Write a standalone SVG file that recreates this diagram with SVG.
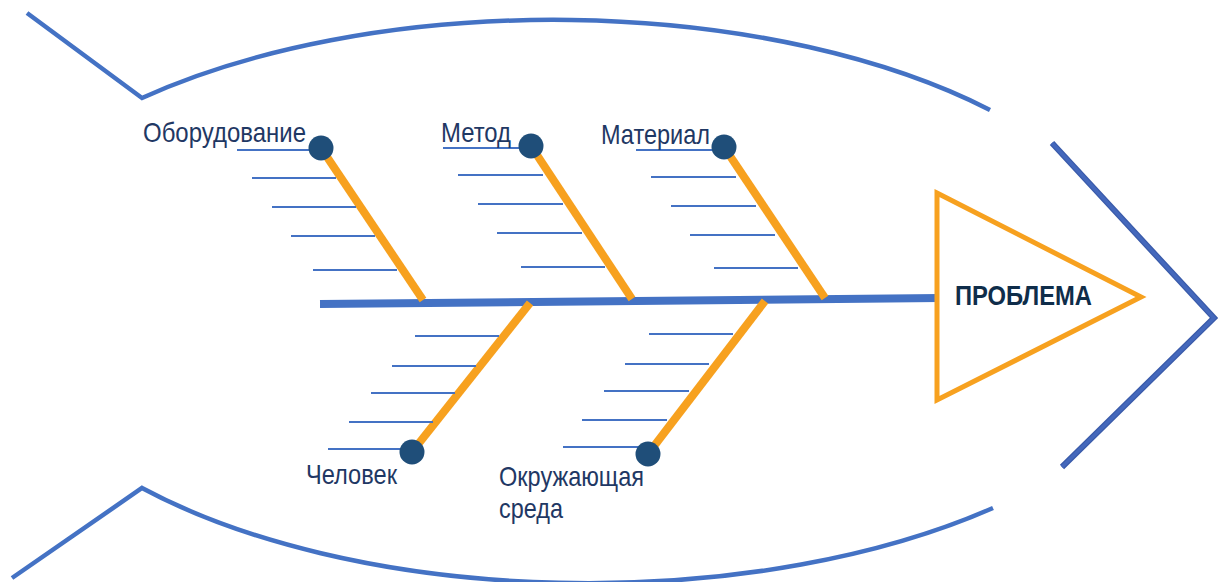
<svg xmlns="http://www.w3.org/2000/svg" width="1219" height="582" viewBox="0 0 1219 582">
<style>
.outline{fill:none;stroke:#4472C4;stroke-width:4.5}
.chev{fill:none;stroke:#3A5BAA;stroke-width:6;stroke-linejoin:miter}
.chev2{fill:none;stroke:#4468BC;stroke-width:3.5;stroke-linejoin:miter}
.spine{stroke:#4472C4;stroke-width:8}
.bone{stroke:#F7A11F;stroke-width:8}
.rib{stroke:#4472C4;stroke-width:2}
.dot{fill:#1F4E79}
.lbl{font-family:"Liberation Sans",Arial,sans-serif;font-size:28px;fill:#1F3864}
.head{fill:#fff;stroke:#F7A11F;stroke-width:5}
.htxt{font-family:"Liberation Sans",Arial,sans-serif;font-size:27px;font-weight:bold;fill:#0F2D4A}
</style>
<g id="outline">
<path class="outline" d="M27,13 L142,98 A593,279 0 0 1 990,110"/>
<path class="outline" d="M12,578 L142,488 A593,279 0 0 0 993,508"/>
<path class="chev" d="M1052,143 L1214,318 L1062,467"/>
<path class="chev2" d="M1052,143 L1214,318 L1062,467"/>
</g>
<g id="connectors">
<line class="spine" x1="320" y1="304" x2="940" y2="298"/>
<line class="bone" x1="321" y1="148" x2="423" y2="300"/>
<line class="bone" x1="531" y1="146" x2="632" y2="299"/>
<line class="bone" x1="724" y1="147" x2="825" y2="298"/>
<line class="bone" x1="530" y1="303" x2="412" y2="452"/>
<line class="bone" x1="765" y1="301" x2="648" y2="454"/>
</g>
<g id="ribs-oborudovanie">
<line class="rib" x1="237" y1="150" x2="320" y2="150"/>
<line class="rib" x1="252" y1="178" x2="336" y2="178"/>
<line class="rib" x1="272" y1="207" x2="356" y2="207"/>
<line class="rib" x1="291" y1="236" x2="375" y2="236"/>
<line class="rib" x1="313" y1="270" x2="397" y2="270"/>
</g>
<g id="ribs-metod">
<line class="rib" x1="443" y1="148" x2="530" y2="148"/>
<line class="rib" x1="458" y1="175" x2="543" y2="175"/>
<line class="rib" x1="478" y1="204" x2="563" y2="204"/>
<line class="rib" x1="497" y1="233" x2="582" y2="233"/>
<line class="rib" x1="521" y1="267" x2="605" y2="267"/>
</g>
<g id="ribs-material">
<line class="rib" x1="636" y1="150" x2="723" y2="150"/>
<line class="rib" x1="651" y1="177" x2="736" y2="177"/>
<line class="rib" x1="671" y1="206" x2="756" y2="206"/>
<line class="rib" x1="690" y1="235" x2="775" y2="235"/>
<line class="rib" x1="714" y1="268" x2="798" y2="268"/>
</g>
<g id="ribs-chelovek">
<line class="rib" x1="415" y1="336" x2="499" y2="336"/>
<line class="rib" x1="392" y1="366" x2="476" y2="366"/>
<line class="rib" x1="371" y1="393" x2="455" y2="393"/>
<line class="rib" x1="349" y1="422" x2="433" y2="422"/>
<line class="rib" x1="328" y1="449" x2="412" y2="449"/>
</g>
<g id="ribs-sreda">
<line class="rib" x1="649" y1="334" x2="733" y2="334"/>
<line class="rib" x1="625" y1="364" x2="709" y2="364"/>
<line class="rib" x1="604" y1="391" x2="689" y2="391"/>
<line class="rib" x1="582" y1="420" x2="667" y2="420"/>
<line class="rib" x1="563" y1="447" x2="648" y2="447"/>
</g>
<g id="node-oborudovanie">
<circle class="dot" cx="321" cy="148" r="12.5"/>
<text class="lbl" x="143" y="142" textLength="163" lengthAdjust="spacingAndGlyphs">Оборудование</text>
</g>
<g id="node-metod">
<circle class="dot" cx="531" cy="146" r="12.5"/>
<text class="lbl" x="441" y="142" textLength="70" lengthAdjust="spacingAndGlyphs">Метод</text>
</g>
<g id="node-material">
<circle class="dot" cx="724" cy="147" r="12.5"/>
<text class="lbl" x="601" y="144" textLength="109" lengthAdjust="spacingAndGlyphs">Материал</text>
</g>
<g id="node-chelovek">
<circle class="dot" cx="412" cy="452" r="12.5"/>
<text class="lbl" x="306" y="484" textLength="91" lengthAdjust="spacingAndGlyphs">Человек</text>
</g>
<g id="node-sreda">
<circle class="dot" cx="648" cy="454" r="12.5"/>
<text class="lbl" x="499" y="486" textLength="145" lengthAdjust="spacingAndGlyphs">Окружающая</text>
<text class="lbl" x="499" y="518" textLength="64" lengthAdjust="spacingAndGlyphs">среда</text>
</g>
<g id="node-problema">
<polygon class="head" points="937,193 1141,297 937,400"/>
<text class="htxt" x="955" y="305" textLength="137" lengthAdjust="spacingAndGlyphs">ПРОБЛЕМА</text>
</g>
</svg>
